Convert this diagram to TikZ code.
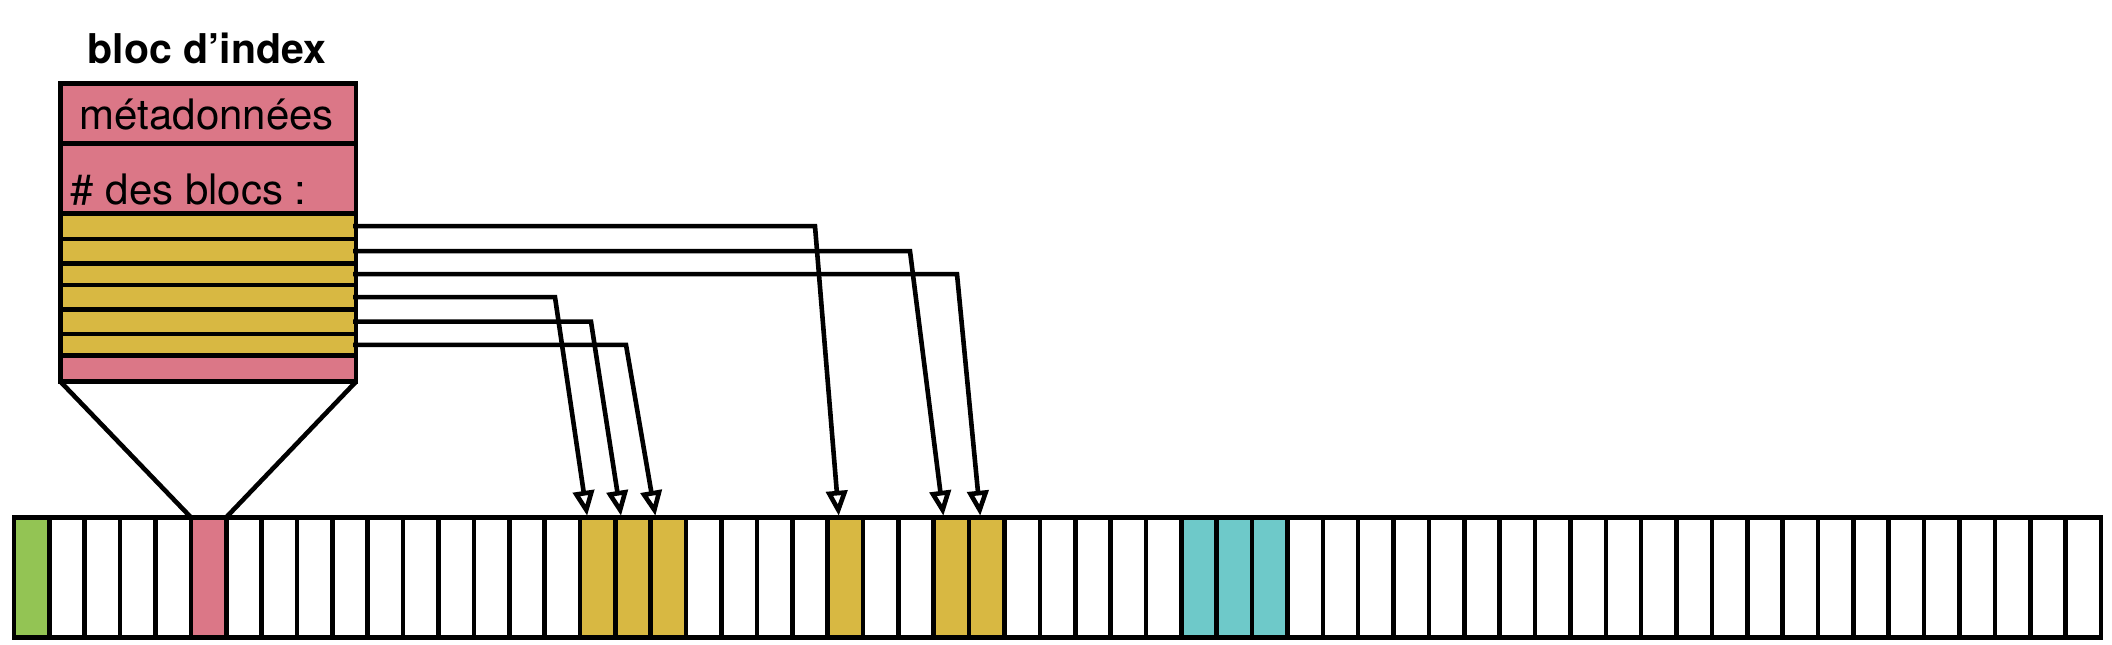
\documentclass[tikz,border=0pt]{standalone}
\usepackage{fontspec}
\setmainfont{TeX Gyre Heros}
\usetikzlibrary{arrows.meta,calc}
\definecolor{cpink}{RGB}{219,119,135}
\definecolor{cyellow}{RGB}{216,184,66}
\definecolor{cgreen}{RGB}{147,196,84}
\definecolor{cteal}{RGB}{110,201,201}
\begin{document}
\begin{tikzpicture}[x=1pt,y=-1pt,line width=4.6pt,
  rowbox/.style={draw=black,inner sep=0pt,outer sep=0pt,anchor=north west,minimum width=295.5pt},
  cell/.style={draw=black,inner sep=0pt,outer sep=0pt,anchor=north west,minimum width=35.373pt,minimum height=120.4pt},
  lbl/.style={inner sep=0pt,outer sep=0pt,font=\fontsize{42}{50}\selectfont},
  ptr/.style={-{Triangle[open,length=25pt,width=21pt]},line join=miter}]
\useasboundingbox (0,0) rectangle (2112,645);
% title
\node[lbl,anchor=base,font=\fontsize{41}{49}\selectfont\bfseries] (title) at (207,63.3) {bloc d’index};
% index block rows
\node[rowbox,fill=cpink,minimum height=59.8pt] (meta) at (60.5,83.5) {};
\node[rowbox,fill=cpink,minimum height=70pt] (count) at (60.5,143.3) {};
\node[rowbox,fill=cyellow,minimum height=25.7pt] (r1) at (60.5,213.3) {};
\node[rowbox,fill=cyellow,minimum height=24.3pt] (r2) at (60.5,239) {};
\node[rowbox,fill=cyellow,minimum height=21.7pt] (r3) at (60.5,263.3) {};
\node[rowbox,fill=cyellow,minimum height=24.3pt] (r4) at (60.5,285) {};
\node[rowbox,fill=cyellow,minimum height=24.7pt] (r5) at (60.5,309.3) {};
\node[rowbox,fill=cyellow,minimum height=21.7pt] (r6) at (60.5,334) {};
\node[rowbox,fill=cpink,minimum height=26pt] (last) at (60.5,355.7) {};
\node[lbl,anchor=base] (metatxt) at (206.7,129.3) {métadonnées};
\node[lbl,anchor=base west] (counttxt) at (70.7,204) {\# des blocs :};
% storage strip
\foreach \i in {0,...,58}{%
  \def\cc{white}%
  \ifnum\i=0 \def\cc{cgreen}\fi
  \ifnum\i=5 \def\cc{cpink}\fi
  \ifnum\i=16 \def\cc{cyellow}\fi
  \ifnum\i=17 \def\cc{cyellow}\fi
  \ifnum\i=18 \def\cc{cyellow}\fi
  \ifnum\i=23 \def\cc{cyellow}\fi
  \ifnum\i=26 \def\cc{cyellow}\fi
  \ifnum\i=27 \def\cc{cyellow}\fi
  \ifnum\i=33 \def\cc{cteal}\fi
  \ifnum\i=34 \def\cc{cteal}\fi
  \ifnum\i=35 \def\cc{cteal}\fi
  \node[cell,fill=\cc] (c\i) at ({14+\i*35.373},517.3) {};
}
% zoom lines
\draw (last.south west) -- (c5.north west);
\draw (last.south east) -- (c5.north east);
% bend points and tips
\coordinate (b1) at (815,0);
\coordinate (b2) at (910,0);
\coordinate (b3) at (957,0);
\coordinate (b4) at (555,0);
\coordinate (b5) at (591,0);
\coordinate (b6) at (626,0);
\coordinate (t1) at ($(c23.north)+(-6.5,-1.5)$);
\coordinate (t2) at ($(c26.north)+(-8,-1.5)$);
\coordinate (t3) at ($(c27.north)+(-6.5,-1.5)$);
\coordinate (t4) at ($(c16.north)+(-10.5,-1.5)$);
\coordinate (t5) at ($(c17.north)+(-12,-1.5)$);
\coordinate (t6) at ($(c18.north)+(-13,-1.5)$);
\draw[ptr] ([xshift=-3pt]r1.east) -- (r1.east -| b1) -- (t1);
\draw[ptr] ([xshift=-3pt]r2.east) -- (r2.east -| b2) -- (t2);
\draw[ptr] ([xshift=-3pt]r3.east) -- (r3.east -| b3) -- (t3);
\draw[ptr] ([xshift=-3pt]r4.east) -- (r4.east -| b4) -- (t4);
\draw[ptr] ([xshift=-3pt]r5.east) -- (r5.east -| b5) -- (t5);
\draw[ptr] ([xshift=-3pt]r6.east) -- (r6.east -| b6) -- (t6);
\end{tikzpicture}
\end{document}
